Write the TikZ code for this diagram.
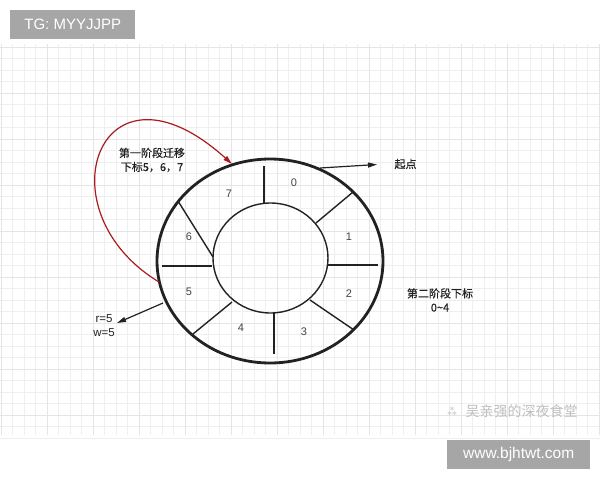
\documentclass[tikz,border=0pt]{standalone}
\usepackage{fontspec}
\setmainfont{Liberation Sans}
\newfontfamily\cjk{Noto Sans CJK SC}
\newfontfamily\cjkb{Noto Sans CJK SC}[FakeBold=0.4]
\usetikzlibrary{arrows.meta}
\definecolor{gridc}{RGB}{239,239,239}
\definecolor{gridm}{RGB}{229,229,229}
\definecolor{boxg}{RGB}{166,166,166}
\definecolor{redc}{RGB}{168,28,32}
\definecolor{lineb}{RGB}{34,34,34}
\definecolor{wmark}{RGB}{190,190,190}
\tikzset{
  spoke/.style={draw=lineb, line width=1.4pt},
  num/.style={font=\fontsize{11}{12}\selectfont, text=lineb!85},
  cn/.style={font=\cjkb\fontsize{11}{14}\selectfont, text=lineb, align=center},
  arr/.style={draw=lineb, line width=1.2pt, -{Triangle[length=9pt,width=5pt]}},
  redarr/.style={draw=redc, line width=1.2pt, -{Triangle[length=9pt,width=5pt]}},
  badge/.style={fill=boxg, text=white, inner sep=0pt, minimum height=29pt, anchor=north west}
}
\begin{document}
\begin{tikzpicture}[x=1pt,y=-1pt]
\useasboundingbox (0,0) rectangle (600,480);
\fill[white] (0,0) rectangle (600,480);
% grid
\foreach \i in {0,...,52} {
  \draw[gridc, line width=0.6pt] ({1+\i*11.5},44) -- ({1+\i*11.5},435);
}
\foreach \j in {0,...,34} {
  \draw[gridc, line width=0.6pt] (0,{47+\j*11.5}) -- (600,{47+\j*11.5});
}
\foreach \i in {0,...,13} {
  \draw[gridm, line width=0.8pt] ({1+\i*46},44) -- ({1+\i*46},435);
}
\foreach \j in {0,...,8} {
  \draw[gridm, line width=0.8pt] (0,{47+\j*46}) -- (600,{47+\j*46});
}
% badges
\node[badge, minimum width=125pt] (tg) at (10,10) {\fontsize{15}{16}\selectfont TG: MYYJJPP};
\node[badge, minimum width=143pt] (web) at (447,440) {\fontsize{15.5}{16}\selectfont www.bjhtwt.com};
\node[font=\cjk\fontsize{14}{15}\selectfont, text=wmark, anchor=west] (wm) at (462,411) {吴亲强的深夜食堂};
\node[font=\fontsize{11}{12}\selectfont, text=wmark] (wmicon) at (452,411) {\cjk ⁂};
% ring
\draw[lineb, line width=2.8pt] (270,261) ellipse [x radius=113, y radius=102];
\draw[lineb, line width=1.4pt] (270.5,258) ellipse [x radius=57.5, y radius=55];
\coordinate (s0a) at (264,166); \coordinate (s0b) at (264,203);
\coordinate (s1a) at (316,223); \coordinate (s1b) at (353,192);
\coordinate (s2a) at (328,265); \coordinate (s2b) at (378,265);
\coordinate (s3a) at (310,300); \coordinate (s3b) at (354,330);
\coordinate (s4a) at (274,313); \coordinate (s4b) at (274,354);
\coordinate (s5a) at (232,302); \coordinate (s5b) at (193,334);
\coordinate (s6a) at (162,266); \coordinate (s6b) at (212,266);
\coordinate (s7a) at (213,257); \coordinate (s7b) at (178,201);
\foreach \k in {0,...,7} { \draw[spoke] (s\k a) -- (s\k b); }
\node[num] (n0) at (294,183) {0};
\node[num] (n1) at (349,237) {1};
\node[num] (n2) at (349,294) {2};
\node[num] (n3) at (304,332) {3};
\node[num] (n4) at (241,328) {4};
\node[num] (n5) at (189,292) {5};
\node[num] (n6) at (189,237) {6};
\node[num] (n7) at (229,194) {7};
% start arrow
\coordinate (st0) at (320,168);
\coordinate (st1) at (377,164.5);
\node[cn, anchor=west] (qd) at (391,164) {起点};
\draw[arr] (st0) -- (st1);
% r w arrow
\coordinate (rw0) at (163,303);
\coordinate (rw1) at (117,323);
\node[font=\fontsize{11.5}{14}\selectfont, text=lineb, align=center] (rw) at (104,326) {r=5\\w=5};
\draw[arr] (rw0) -- (rw1);
% red curve
\coordinate (rc0) at (159,282);
\coordinate (rc1) at (232,164);
\draw[redarr] (rc0) .. controls (40,210) and (100,45) .. (rc1);
\node[cn] (stage1) at (152,160) {第一阶段迁移\\下标5，6，7};
\node[cn] (stage2) at (440,300) {第二阶段下标\\0\textasciitilde 4};
\end{tikzpicture}
\end{document}
